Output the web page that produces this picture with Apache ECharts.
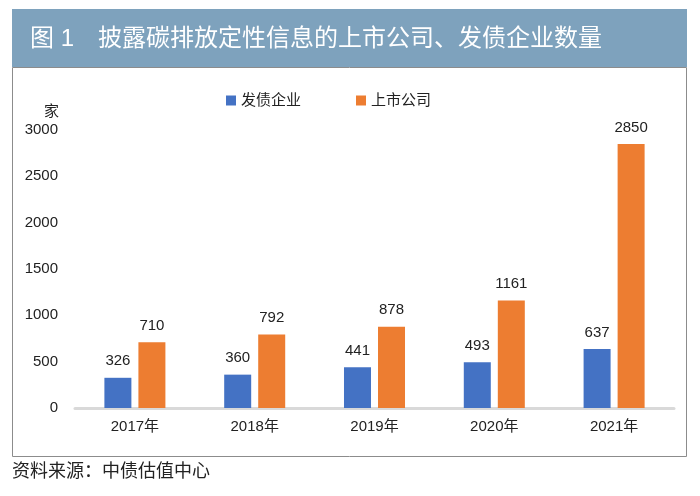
<!DOCTYPE html>
<html>
<head>
<meta charset="utf-8">
<script src="https://cdn.jsdelivr.net/npm/echarts@6/dist/echarts.min.js"></script>
<style>html,body{margin:0;padding:0;background:#fff;}#c{width:700px;height:496px;}</style>
</head>
<body>
<div id="c"></div>
<script>
const titleText = '图 1\u3000披露碳排放定性信息的上市公司、发债企业数量';
const sourceText = '资料来源：中债估值中心';
const unitText = '家';
const categories = ['2017年', '2018年', '2019年', '2020年', '2021年'];
const seriesNames = ['发债企业', '上市公司'];
const bondIssuers = [326, 360, 441, 493, 637];
const listedCompanies = [710, 792, 878, 1161, 2850];

const FONT = '"Liberation Sans", "Noto Sans CJK SC", sans-serif';
const chart = echarts.init(document.getElementById('c'), null, {renderer: 'canvas'});
chart.setOption({
  backgroundColor: '#ffffff',
  animation: false,
  textStyle: {fontFamily: FONT},
  graphic: [
    {type: 'rect', shape: {x: 12, y: 9, width: 675, height: 58}, style: {fill: '#7ea2bd'}, z: 0},
    {type: 'rect', shape: {x: 12.5, y: 67.5, width: 674, height: 389}, style: {fill: 'none', stroke: '#8c8c8c', lineWidth: 1}, z: 0}
  ],
  title: [
    {text: titleText, left: 30, top: 27, textStyle: {color: '#ffffff', fontSize: 24, fontWeight: 'normal', fontFamily: FONT}, padding: 0},
    {text: unitText, left: 44, top: 104, textStyle: {color: '#222', fontSize: 15, fontWeight: 'normal', fontFamily: FONT}, padding: 0},
    {text: sourceText, left: 12, top: 463, textStyle: {color: '#222', fontSize: 18, fontWeight: 'normal', fontFamily: FONT}, padding: 0}
  ],
  legend: {
    data: seriesNames,
    left: 226, top: 93,
    icon: 'rect', itemWidth: 10, itemHeight: 10, itemGap: 55,
    textStyle: {fontSize: 15, color: '#222', fontFamily: FONT},
    padding: 0
  },
  grid: {left: 75, right: 26, top: 130, bottom: 88, containLabel: false},
  xAxis: {
    type: 'category', data: categories,
    axisLine: {lineStyle: {color: '#d9d9d9', width: 3}},
    axisTick: {show: false},
    axisLabel: {fontSize: 15, color: '#222', margin: 11, fontFamily: FONT}
  },
  yAxis: {
    type: 'value', min: 0, max: 3000, interval: 500,
    axisLine: {show: false}, axisTick: {show: false},
    splitLine: {show: false},
    axisLabel: {fontSize: 15, color: '#222', margin: 17, fontFamily: FONT, formatter: function (v) { return String(v); }}
  },
  series: [
    {name: seriesNames[0], type: 'bar', data: bondIssuers, barWidth: 27, barGap: '26%',
     itemStyle: {color: '#4472c4'},
     label: {show: true, position: 'top', distance: 9, fontSize: 15, color: '#222', fontFamily: FONT}},
    {name: seriesNames[1], type: 'bar', data: listedCompanies, barWidth: 27,
     itemStyle: {color: '#ed7d31'},
     label: {show: true, position: 'top', distance: 9, fontSize: 15, color: '#222', fontFamily: FONT}}
  ]
});
</script>
</body>
</html>
